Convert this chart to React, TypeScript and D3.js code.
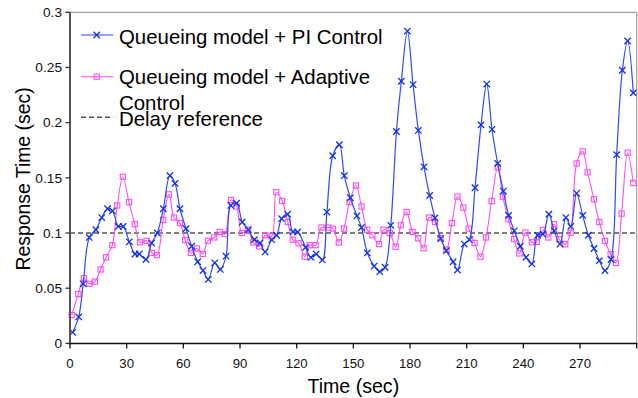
import React from "react";
import * as d3 from "d3";

const piTime = [1.4, 4.6, 7.0, 10.2, 13.7, 16.8, 19.9, 22.5, 25.6, 28.2, 31.4, 34.4, 36.7, 40.2, 43.2, 46.2, 49.4, 52.9, 55.6, 58.2, 61.4, 64.4, 67.6, 70.4, 73.2, 76.6, 79.6, 82.6, 85.1, 88.2, 91.2, 94.4, 97.6, 100.6, 103.3, 106.8, 109.4, 112.0, 115.2, 118.0, 120.5, 124.7, 127.5, 130.3, 133.6, 136.0, 139.1, 142.6, 145.2, 148.4, 151.9, 154.3, 157.4, 161.0, 164.0, 166.8, 169.8, 172.8, 175.4, 178.6, 181.6, 184.4, 187.4, 190.4, 193.2, 196.2, 199.2, 202.8, 205.1, 208.7, 211.4, 214.4, 217.6, 220.6, 223.4, 226.4, 229.4, 232.2, 235.2, 238.4, 241.4, 244.5, 247.5, 250.4, 253.5, 256.3, 259.4, 262.5, 265.1, 268.2, 271.4, 274.4, 277.4, 280.2, 283.2, 286.4, 289.4, 292.4, 295.2, 298.2];
const piValues = [0.010, 0.024, 0.054, 0.096, 0.103, 0.114, 0.122, 0.120, 0.106, 0.106, 0.092, 0.081, 0.081, 0.076, 0.091, 0.100, 0.122, 0.152, 0.145, 0.122, 0.104, 0.088, 0.074, 0.066, 0.058, 0.073, 0.067, 0.079, 0.125, 0.127, 0.110, 0.103, 0.094, 0.091, 0.083, 0.094, 0.098, 0.113, 0.117, 0.101, 0.101, 0.087, 0.078, 0.081, 0.0756, 0.119, 0.170, 0.180, 0.152, 0.132, 0.1155, 0.105, 0.082, 0.070, 0.065, 0.069, 0.107, 0.192, 0.2375, 0.283, 0.2345, 0.193, 0.160, 0.134, 0.1137, 0.095, 0.084, 0.074, 0.0665, 0.090, 0.094, 0.141, 0.198, 0.235, 0.194, 0.163, 0.138, 0.116, 0.102, 0.088, 0.078, 0.072, 0.098, 0.099, 0.117, 0.102, 0.090, 0.114, 0.106, 0.136, 0.116, 0.098, 0.086, 0.075, 0.066, 0.076, 0.171, 0.2475, 0.274, 0.227];

const adTime = [0.9, 4.4, 7.4, 10.2, 13.2, 16.2, 19.1, 22.4, 25.0, 28.0, 31.2, 34.3, 37.1, 40.5, 43.3, 46.0, 49.3, 52.4, 55.1, 58.2, 61.0, 64.0, 67.2, 70.3, 73.0, 76.3, 79.2, 82.0, 85.2, 88.2, 91.0, 94.2, 97.0, 100.1, 103.3, 106.8, 109.2, 112.3, 115.3, 117.9, 121.0, 124.3, 126.9, 130.0, 133.1, 136.7, 139.2, 142.3, 145.0, 148.0, 151.4, 154.3, 157.3, 160.1, 163.6, 166.0, 169.3, 172.4, 175.1, 178.2, 181.3, 184.3, 187.2, 190.1, 193.2, 196.2, 199.3, 202.2, 205.1, 208.2, 211.1, 214.2, 217.3, 220.2, 223.2, 226.4, 229.1, 232.0, 235.1, 237.9, 241.1, 244.5, 247.1, 250.4, 253.2, 256.3, 259.0, 262.2, 265.0, 268.2, 271.4, 274.0, 277.4, 280.2, 283.2, 286.2, 289.0, 292.0, 295.2, 298.2];
const adValues = [0.0257, 0.0448, 0.059, 0.054, 0.056, 0.067, 0.078, 0.089, 0.125, 0.151, 0.128, 0.108, 0.0916, 0.093, 0.082, 0.080, 0.112, 0.135, 0.114, 0.109, 0.0937, 0.082, 0.086, 0.081, 0.093, 0.096, 0.101, 0.099, 0.130, 0.124, 0.100, 0.103, 0.0915, 0.088, 0.098, 0.097, 0.137, 0.129, 0.110, 0.094, 0.0907, 0.0786, 0.089, 0.089, 0.105, 0.105, 0.104, 0.0915, 0.104, 0.128, 0.143, 0.124, 0.103, 0.098, 0.090, 0.103, 0.100, 0.0876, 0.107, 0.119, 0.101, 0.0953, 0.0862, 0.114, 0.110, 0.0955, 0.085, 0.109, 0.133, 0.123, 0.104, 0.091, 0.0786, 0.096, 0.129, 0.1596, 0.133, 0.1125, 0.0945, 0.0815, 0.1005, 0.0916, 0.092, 0.1028, 0.096, 0.108, 0.0944, 0.0898, 0.1003, 0.163, 0.174, 0.155, 0.1306, 0.110, 0.0928, 0.0808, 0.0729, 0.1176, 0.1728, 0.1454];

const delayReference = 0.1;
const xTicks = [0, 30, 60, 90, 120, 150, 180, 210, 240, 270];
const yTicks = [0, 0.05, 0.1, 0.15, 0.2, 0.25, 0.3];
const legendLabels = ["Queueing model + PI Control", "Queueing model + Adaptive", "Control", "Delay reference"];

const W = 638, H = 398;
const L = 70, R = 636.7, T = 12.3, B = 343.4;
const FONT = "'Liberation Sans', Arial, Helvetica, sans-serif";
const BLUE = "#2a4bff";
const BLUE_M = "#1431e6";
const PINK = "#ff4df2";

function Cross({ x, y, s = 3.2, color }: { x: number; y: number; s?: number; color: string }) {
  return (
    <path d={`M${x - s},${y - s}L${x + s},${y + s}M${x - s},${y + s}L${x + s},${y - s}`} stroke={color} strokeWidth={1.3} fill="none" />
  );
}
function Square({ x, y, s = 2.6, color }: { x: number; y: number; s?: number; color: string }) {
  return <rect x={x - s} y={y - s} width={2 * s} height={2 * s} stroke={color} strokeWidth={1.1} fill="none" />;
}

export default function App() {
  const x = d3.scaleLinear().domain([0, 300]).range([L, R]);
  const y = d3.scaleLinear().domain([0, 0.3]).range([B, T]);
  const line = d3
    .line<[number, number]>()
    .x((d) => x(d[0]))
    .y((d) => y(d[1]))
    .curve(d3.curveCatmullRom.alpha(0.5));
  const pi: [number, number][] = piTime.map((t, i) => [t, piValues[i]]);
  const ad: [number, number][] = adTime.map((t, i) => [t, adValues[i]]);

  return (
    <svg width={W} height={H} style={{ position: "absolute", left: 0, top: 0, background: "#fff" }} fontFamily={FONT}>
      <rect x={0} y={0} width={W} height={H} fill="#fff" />
      {/* frame */}
      <line x1={L} x2={R} y1={T} y2={T} stroke="#a0a0a0" strokeWidth={1.2} />
      <line x1={R} x2={R} y1={T} y2={B} stroke="#a0a0a0" strokeWidth={1.2} />
      {/* reference */}
      <line x1={L} x2={R} y1={y(delayReference)} y2={y(delayReference)} stroke="#555" strokeWidth={1.4} strokeDasharray="5,3" />
      {/* series */}
      <path d={line(ad) || ""} fill="none" stroke={PINK} strokeWidth={1.1} />
      {ad.map((d, i) => (
        <Square key={"a" + i} x={x(d[0])} y={y(d[1])} color={PINK} />
      ))}
      <path d={line(pi) || ""} fill="none" stroke={BLUE} strokeWidth={1.2} />
      {pi.map((d, i) => (
        <Cross key={"p" + i} x={x(d[0])} y={y(d[1])} color={BLUE_M} />
      ))}
      {/* axes */}
      <line x1={L} x2={L} y1={T} y2={B + 1} stroke="#555" strokeWidth={2} />
      <line x1={L - 1} x2={R + 0.5} y1={B} y2={B} stroke="#111" strokeWidth={1.5} />
      {yTicks.map((v) => (
        <g key={"y" + v}>
          <line x1={L - 4.5} x2={L} y1={y(v)} y2={y(v)} stroke="#333" strokeWidth={1.3} />
          <text x={L - 8} y={y(v)} dy="0.35em" textAnchor="end" fontSize={13.7} fill="#111">
            {String(v)}
          </text>
        </g>
      ))}
      {[...xTicks, 300].map((v) => (
        <line key={"xt" + v} x1={x(v)} x2={x(v)} y1={B} y2={B + 5} stroke="#111" strokeWidth={1.3} />
      ))}
      {xTicks.map((v) => (
        <text key={"xl" + v} x={x(v)} y={367.7} textAnchor="middle" fontSize={13.2} fill="#111">
          {String(v)}
        </text>
      ))}
      <text x={353.3} y={393.3} textAnchor="middle" fontSize={19.6} fill="#000">
        Time (sec)
      </text>
      <text transform="translate(29.5,179) rotate(-90)" textAnchor="middle" fontSize={19.4} fill="#000">
        Response Time (sec)
      </text>
      {/* legend */}
      <g>
        <line x1={81} x2={113.3} y1={35} y2={35} stroke={BLUE} strokeWidth={1.2} />
        <Cross x={96.7} y={35} color={BLUE_M} />
        <text x={119} y={44.3} fontSize={20.4} fill="#000">{legendLabels[0]}</text>
        <line x1={81} x2={113.3} y1={76.7} y2={76.7} stroke={PINK} strokeWidth={1.1} />
        <Square x={96.7} y={76.7} color={PINK} />
        <text x={119} y={84.3} fontSize={20.4} fill="#000">{legendLabels[1]}</text>
        <text x={119} y={110} fontSize={20.4} fill="#000">{legendLabels[2]}</text>
        <line x1={81} x2={113.3} y1={117.3} y2={117.3} stroke="#555" strokeWidth={1.4} strokeDasharray="5,3" />
        <text x={119} y={125.7} fontSize={20.4} fill="#000">{legendLabels[3]}</text>
      </g>
    </svg>
  );
}
